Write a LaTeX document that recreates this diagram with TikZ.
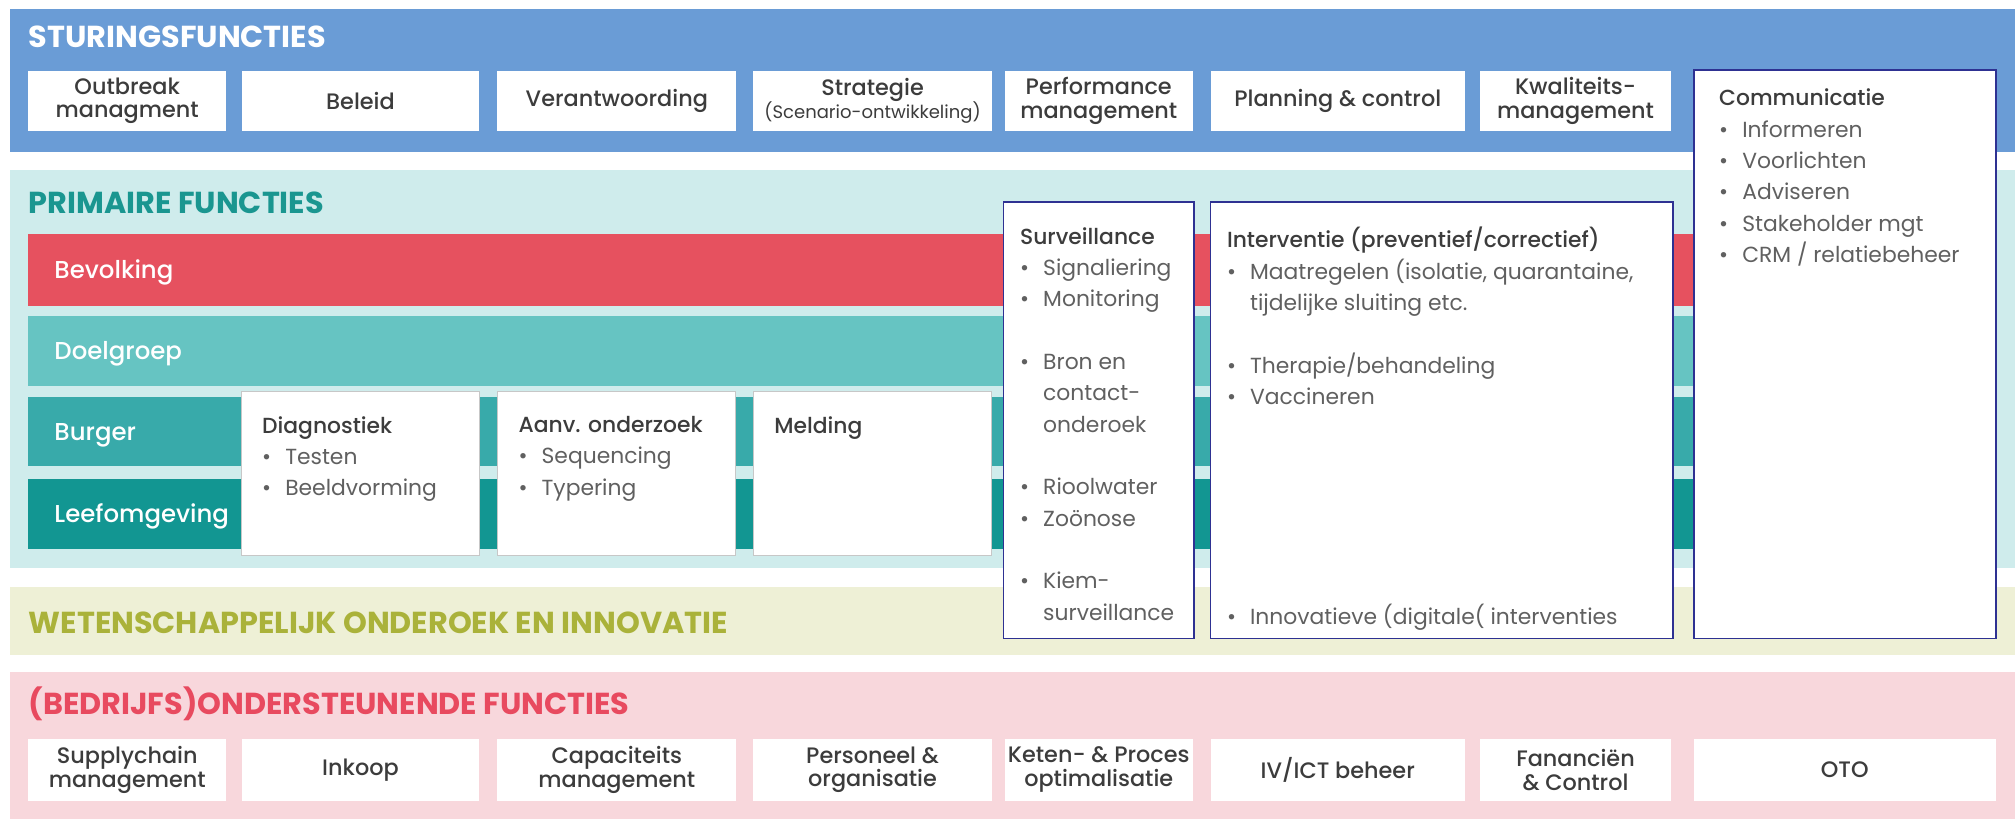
\documentclass[tikz,border=0pt]{standalone}
\usepackage{fontspec}
\setmainfont{Poppins}
\newfontfamily\medfont{Poppins Medium}
\usetikzlibrary{positioning}
\definecolor{sturblue}{HTML}{6A9CD6}
\definecolor{primband}{HTML}{CFECEC}
\definecolor{primtitle}{HTML}{1A9690}
\definecolor{bevred}{HTML}{E6515F}
\definecolor{doelteal}{HTML}{66C4C2}
\definecolor{burgteal}{HTML}{38AAAA}
\definecolor{leefteal}{HTML}{129692}
\definecolor{wetband}{HTML}{EEF0D6}
\definecolor{wettitle}{HTML}{AAB23A}
\definecolor{ondband}{HTML}{F8D7DC}
\definecolor{ondtitle}{HTML}{E84A5F}
\definecolor{navy}{HTML}{2E3192}
\definecolor{labeltxt}{HTML}{3C3C3C}
\definecolor{itemtxt}{HTML}{606060}
\newcommand\itm{\makebox[9pt][l]{\textbullet}}
\newcommand\cont{\hspace*{9pt}}
\newcommand\hd[1]{{\medfont\color{labeltxt}#1}}
\tikzset{
bandtitle/.style={anchor=base west, inner sep=0pt, font=\bfseries\fontsize{11.8}{13}\selectfont},
tile/.style={%
    fill=white,
    inner sep=0pt,
    align=center,
    text=labeltxt,
    font=\medfont\fontsize{8.7}{9.2}\selectfont
},
tiletop/.style={tile, minimum height=23.5pt},
tilebot/.style={tile, minimum height=24pt},
bar/.style={anchor=base west, inner sep=0pt, text=white, font=\medfont\fontsize{9.5}{11}\selectfont},
panel/.style={%
    fill=white, draw=black!22, line width=0.4pt,
    minimum width=92.5pt, minimum height=63.5pt, inner sep=0pt
},
column/.style={fill=white, draw=navy, line width=0.6pt, inner sep=0pt},
itemlist/.style={inner sep=0pt, align=left, text=itemtxt, font=\fontsize{8.5}{12.2}\selectfont},
}

\begin{document}
\begin{tikzpicture}[x=0.5pt, y=-0.5pt]
\useasboundingbox (0,0) rectangle (1568,637.3);

% bands
\fill[sturblue] (8,7) rectangle (1568,118);
\fill[primband] (8,132) rectangle (1568,442);
\fill[wetband] (8,457) rectangle (1568,510);
\fill[ondband] (8,523) rectangle (1568,637.3);

\node[bandtitle, text=white] (sturing) at (22,37) {STURINGSFUNCTIES};
\node[bandtitle, text=primtitle] (primair) at (22,166) {PRIMAIRE FUNCTIES};
\node[bandtitle, text=wettitle] (wetensch) at (22,493) {WETENSCHAPPELIJK ONDEROEK EN INNOVATIE};
\node[bandtitle, text=ondtitle] (onderst) at (22,556) {(BEDRIJFS)ONDERSTEUNENDE FUNCTIES};

% sturing
\node[tiletop, minimum width=77pt] (outbreak) at (99,78.5) {Outbreak\\managment};
\node[tiletop, minimum width=92.5pt] (beleid) at (280.5,78.5) {Beleid};
\node[tiletop, minimum width=93pt] (verantw) at (480,78.5) {Verantwoording};
\node[tiletop, minimum width=93pt] (strategie) at (679,78.5) {Strategie\\{\normalfont\fontsize{7}{9}\selectfont(Scenario-ontwikkeling)}};
\node[tiletop, minimum width=73pt] (perform) at (855,78.5) {Performance\\management};
\node[tiletop, minimum width=99pt] (planning) at (1041,78.5) {Planning \& control};
\node[tiletop, minimum width=74pt] (kwaliteit) at (1226,78.5) {Kwaliteits-\\management};

% doelgroepen
\fill[bevred] (22,182) rectangle (1318,238);
\fill[doelteal] (22,246) rectangle (1318,300);
\fill[burgteal] (22,309) rectangle (1318,363);
\fill[leefteal] (22,373) rectangle (1318,427);
\node[bar] (bevolking) at (42,216.5) {Bevolking};
\node[bar] (doelgroep) at (42,279.5) {Doelgroep};
\node[bar] (burger) at (42,342.5) {Burger};
\node[bar] (leefomg) at (42,406.5) {Leefomgeving};

\node[panel] (diagn) at (280.5,368.5) {};
\node[panel] (aanvond) at (480,368.5) {};
\node[panel] (melding) at (679,368.5) {};
\node[itemlist, below right=9.5pt and 8pt of diagn.north west] (diagn-txt)
    {\hd{Diagnostiek}\\\itm Testen\\\itm Beeldvorming};
\node[itemlist, below right=9.5pt and 8pt of aanvond.north west] (aanvond-txt)
    {\hd{Aanv. onderzoek}\\\itm Sequencing\\\itm Typering};
\node[itemlist, below right=9.5pt and 8pt of melding.north west] (melding-txt)
    {\hd{Melding}};

\node[column, minimum width=74pt, minimum height=170pt] (surv) at (855,327) {};
\node[column, minimum width=180pt, minimum height=170pt] (interv) at (1122,327) {};
\node[column, minimum width=117.5pt, minimum height=221.25pt] (commun) at (1435.5,275.75) {};

\node[itemlist, below right=10pt and 6.5pt of surv.north west] (surv-txt)
    {\hd{Surveillance}\\
     \itm Signaliering\\
     \itm Monitoring\\[12.2pt]
     \itm Bron en\\
     \cont contact-\\
     \cont onderoek\\[12.2pt]
     \itm Rioolwater\\
     \itm Zoönose\\[12.2pt]
     \itm Kiem-\\
     \cont surveillance};
\node[itemlist, below right=10pt and 6.5pt of interv.north west] (interv-txt)
    {\hd{Interventie (preventief/correctief)}\\
     \itm Maatregelen (isolatie, quarantaine,\\
     \cont tijdelijke sluiting etc.\\[12.2pt]
     \itm Therapie/behandeling\\
     \itm Vaccineren\\[73.2pt]
     \itm Innovatieve (digitale( interventies};
\node[itemlist, below right=7.5pt and 10pt of commun.north west] (commun-txt)
    {\hd{Communicatie}\\
     \itm Informeren\\
     \itm Voorlichten\\
     \itm Adviseren\\
     \itm Stakeholder mgt\\
     \itm CRM / relatiebeheer};

% ondersteuning
\node[tilebot, minimum width=77pt] (supply) at (99,599) {Supplychain\\management};
\node[tilebot, minimum width=92.5pt] (inkoop) at (280.5,599) {Inkoop};
\node[tilebot, minimum width=93pt] (capac) at (480,599) {Capaciteits\\management};
\node[tilebot, minimum width=93pt] (personeel) at (679,599) {Personeel \&\\organisatie};
\node[tilebot, minimum width=73pt] (keten) at (855,599) {Keten- \& Proces\\optimalisatie};
\node[tilebot, minimum width=99pt] (ivict) at (1041,599) {IV/ICT beheer};
\node[tilebot, minimum width=74pt] (financien) at (1226,599) {Fananciën\\\& Control};
\node[tilebot, minimum width=117.5pt] (oto) at (1435.5,599) {OTO};

\end{tikzpicture}
\end{document}
